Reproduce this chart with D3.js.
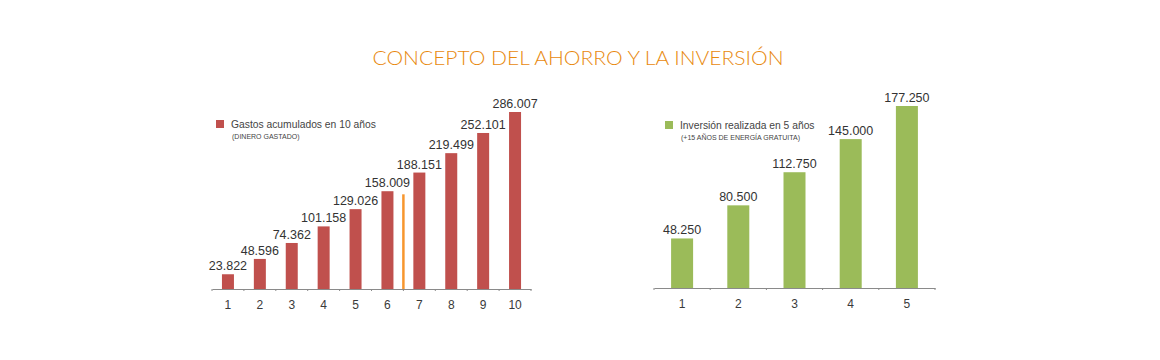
<!DOCTYPE html>
<html>
<head>
<meta charset="utf-8">
<script src="https://cdn.jsdelivr.net/npm/d3@7"></script>
<style>
  html, body { margin: 0; padding: 0; background: #ffffff; }
  svg { display: block; }
</style>
</head>
<body>
<svg id="chart" width="1160" height="360"></svg>
<script>
// ---- Data ----
const title = "CONCEPTO DEL AHORRO Y LA INVERSIÓN";

const gastosYears = ["1", "2", "3", "4", "5", "6", "7", "8", "9", "10"];
const gastosValues = [23822, 48596, 74362, 101158, 129026, 158009, 188151, 219499, 252101, 286007];
const gastosLegend = "Gastos acumulados en 10 años";
const gastosSub = "(DINERO GASTADO)";
// orange marker line between year 6 and 7 (estimated height)
const markerAfterIndex = 6;
const markerValue = 153000;

const inversionYears = ["1", "2", "3", "4", "5"];
const inversionValues = [48250, 80500, 112750, 145000, 177250];
const inversionLegend = "Inversión realizada en 5 años";
const inversionSub = "(+15 AÑOS DE ENERGÍA GRATUITA)";

// ---- Drawing ----
const svg = d3.select("#chart");
const fmt = v => d3.format(",")(v).replace(/,/g, ".");
const labelFont = "'Liberation Sans', Arial, Helvetica, sans-serif";

svg.append("text")
  .attr("x", 578).attr("y", 64.5)
  .attr("text-anchor", "middle")
  .attr("font-family", "Lato, 'Open Sans', sans-serif")
  .attr("font-weight", 300)
  .attr("font-size", 20.5)
  .attr("textLength", 411)
  .attr("lengthAdjust", "spacingAndGlyphs")
  .attr("fill", "#e8890e")
  .text(title);

function drawChart(cfg) {
  const g = svg.append("g");
  const x = d3.scaleBand().domain(cfg.cats).range([cfg.x0, cfg.x1]);
  const y = d3.scaleLinear().domain([0, cfg.maxVal]).range([cfg.base, cfg.base - cfg.maxH]);

  // bars
  g.selectAll("rect.bar").data(cfg.values).enter().append("rect")
    .attr("x", (d, i) => x(cfg.cats[i]) + (x.bandwidth() - cfg.barW) / 2)
    .attr("width", cfg.barW)
    .attr("y", d => y(d))
    .attr("height", d => y(0) - y(d))
    .attr("fill", cfg.color);

  // value labels
  g.selectAll("text.val").data(cfg.values).enter().append("text")
    .attr("x", (d, i) => x(cfg.cats[i]) + x.bandwidth() / 2)
    .attr("y", d => y(d) - 4)
    .attr("text-anchor", "middle")
    .attr("font-family", labelFont)
    .attr("font-size", 12.5)
    .attr("fill", "#333")
    .text(d => fmt(d));

  // axis
  const axis = d3.axisBottom(x).tickSize(0).tickPadding(11);
  const ax = g.append("g").attr("transform", `translate(0,${cfg.base})`).call(axis);
  ax.select(".domain").attr("stroke", "#8a8a8a").attr("stroke-width", 1);
  ax.selectAll(".tick text")
    .attr("font-family", labelFont)
    .attr("font-size", 12)
    .attr("fill", "#3a3a3a");
  // small tick marks at band boundaries
  const bounds = d3.range(cfg.cats.length + 1).map(i => cfg.x0 + i * x.step());
  g.selectAll("line.tk").data(bounds).enter().append("line")
    .attr("x1", d => d).attr("x2", d => d)
    .attr("y1", cfg.base).attr("y2", cfg.base + 2)
    .attr("stroke", "#8a8a8a");

  // legend
  g.append("rect")
    .attr("x", cfg.legX).attr("y", cfg.legY - 4)
    .attr("width", 8).attr("height", 8)
    .attr("fill", cfg.color);
  g.append("text")
    .attr("x", cfg.legX + 15).attr("y", cfg.legY + 3.5)
    .attr("font-family", labelFont)
    .attr("font-size", 10.3)
    .attr("fill", "#444")
    .text(cfg.legend);
  g.append("text")
    .attr("x", cfg.legX + 16).attr("y", cfg.legY + 14.5)
    .attr("font-family", labelFont)
    .attr("font-size", 7)
    .attr("fill", "#444")
    .text(cfg.sub);

  return { x, y, g };
}

const left = drawChart({
  cats: gastosYears, values: gastosValues, color: "#c0504d",
  x0: 212, x1: 531, base: 289, maxH: 177, maxVal: 286007, barW: 12,
  legX: 216, legY: 124, legend: gastosLegend, sub: gastosSub
});

// orange marker
left.g.append("line")
  .attr("x1", 212 + markerAfterIndex * left.x.step())
  .attr("x2", 212 + markerAfterIndex * left.x.step())
  .attr("y1", left.y(0)).attr("y2", left.y(markerValue))
  .attr("stroke", "#f7962e").attr("stroke-width", 2.5);

drawChart({
  cats: inversionYears, values: inversionValues, color: "#9bbb59",
  x0: 654, x1: 935, base: 288, maxH: 182, maxVal: 177250, barW: 22,
  legX: 665, legY: 125, legend: inversionLegend, sub: inversionSub
});
</script>
</body>
</html>
